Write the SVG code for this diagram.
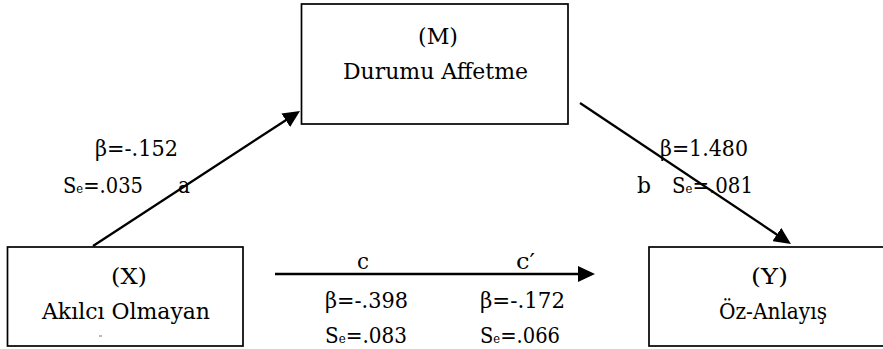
<svg xmlns="http://www.w3.org/2000/svg" width="883" height="349" viewBox="0 0 883 349">
  <style>
    .box { fill: #fff; stroke: #000; stroke-width: 1.7; }
    .lbl { font-family: "DejaVu Serif", "Liberation Serif", serif; font-size: 22px; fill: #000; }
    .sub { font-size: 13px; }
    .edge { stroke: #000; stroke-width: 2.3; fill: none; marker-end: url(#head); }
  </style>
  <defs>
    <marker id="head" markerUnits="userSpaceOnUse" markerWidth="18" markerHeight="16" refX="12" refY="8" orient="auto">
      <path d="M0,0 L17,8 L0,16 Z" fill="#000"/>
    </marker>
  </defs>

  <rect width="883" height="349" fill="#fff"/>

  <!-- mediator -->
  <g id="node-m">
    <rect class="box" x="301.5" y="4" width="266.5" height="120"/>
    <text class="lbl" x="418" y="44" textLength="40" lengthAdjust="spacingAndGlyphs">(M)</text>
    <text class="lbl" x="343" y="79" textLength="185" lengthAdjust="spacingAndGlyphs">Durumu Affetme</text>
  </g>

  <!-- predictor -->
  <g id="node-x">
    <rect class="box" x="7.5" y="247" width="235.5" height="99"/>
    <text class="lbl" x="111" y="284" textLength="36" lengthAdjust="spacingAndGlyphs">(X)</text>
    <text class="lbl" x="42" y="319" textLength="168" lengthAdjust="spacingAndGlyphs">Akılcı Olmayan</text>
    <line x1="99" y1="336" x2="102" y2="336" stroke="#777" stroke-width="1"/>
  </g>

  <!-- outcome -->
  <g id="node-y">
    <rect class="box" x="649" y="247" width="240" height="99"/>
    <text class="lbl" x="751" y="284" textLength="37" lengthAdjust="spacingAndGlyphs">(Y)</text>
    <text class="lbl" x="719" y="319" textLength="108" lengthAdjust="spacingAndGlyphs">Öz-Anlayış</text>
  </g>

  <!-- paths -->
  <g id="connectors">
    <line class="edge" x1="93" y1="246" x2="295.8" y2="113.7"/>
    <line class="edge" x1="580" y1="103" x2="786.8" y2="241.2"/>
    <line class="edge" x1="275" y1="274" x2="590" y2="274"/>
  </g>

  <!-- path coefficients -->
  <g id="labels">
    <text class="lbl" x="95" y="156" textLength="83" lengthAdjust="spacingAndGlyphs">β=-.152</text>
    <text class="lbl" x="63" y="193" textLength="80" lengthAdjust="spacingAndGlyphs">S<tspan class="sub">e</tspan>=.035</text>
    <text class="lbl" x="178" y="193" textLength="12" lengthAdjust="spacingAndGlyphs">a</text>

    <text class="lbl" x="660" y="156" textLength="88" lengthAdjust="spacingAndGlyphs">β=1.480</text>
    <text class="lbl" x="637" y="193" textLength="14" lengthAdjust="spacingAndGlyphs">b</text>
    <text class="lbl" x="672" y="193" textLength="81" lengthAdjust="spacingAndGlyphs">S<tspan class="sub">e</tspan>=.081</text>

    <text class="lbl" x="357" y="269" textLength="12" lengthAdjust="spacingAndGlyphs">c</text>
    <text class="lbl" x="325" y="308" textLength="83" lengthAdjust="spacingAndGlyphs">β=-.398</text>
    <text class="lbl" x="325" y="343" textLength="82" lengthAdjust="spacingAndGlyphs">S<tspan class="sub">e</tspan>=.083</text>

    <text class="lbl" x="516" y="269" textLength="19" lengthAdjust="spacingAndGlyphs">c′</text>
    <text class="lbl" x="480" y="308" textLength="85" lengthAdjust="spacingAndGlyphs">β=-.172</text>
    <text class="lbl" x="480" y="343" textLength="80" lengthAdjust="spacingAndGlyphs">S<tspan class="sub">e</tspan>=.066</text>
  </g>
</svg>
